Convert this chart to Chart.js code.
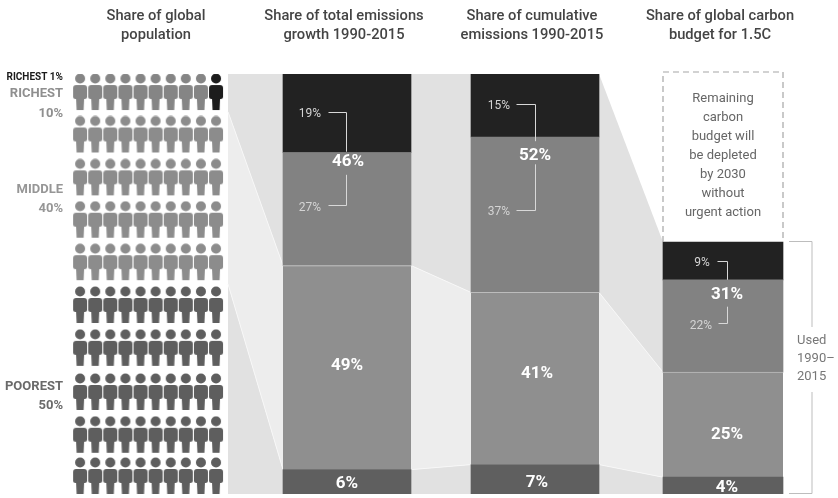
<!DOCTYPE html>
<html><head><meta charset="utf-8">
<style>html,body{margin:0;padding:0;background:#fff}canvas{display:block;filter:blur(0.45px)}</style>
<script src="https://cdn.jsdelivr.net/npm/chart.js@4"></script>
</head><body><canvas id="c" width="838" height="498"></canvas>
<script>
// ---- data (bar heights as drawn; printed labels are rounded)
const categories = [["Share of global","population"],["Share of total emissions","growth 1990-2015"],["Share of cumulative","emissions 1990-2015"],["Share of global carbon","budget for 1.5C"]];
const poorest   = [null, 5.8, 7, 4];
const middle    = [null, 48.6, 41, 25];
const richestNext = [null, 26.9, 37, 22];
const richest1  = [null, 18.7, 15, 9];
const remaining = [null, null, null, 40];
const populationEdges = [0, 50, 91, 100];   // left edge of the connecting bands
const peopleCols = [0,1,2,3,4,5,6,7,8,9];
const peopleRows = [95.7,85.6,75.4,65.3,55.2,45,34.8,24.3,14.1,4.3];
const FONT = 'Roboto, sans-serif';

const colors = {poorest:'#5f5f5f', middle:'#8f8f8f', next:'#828282', top:'#222222', bandDark:'#e1e1e1', bandLight:'#ededed', line:'#f7f7f7', seam:'#bcbcbc'};

function person(color){
  const c=document.createElement('canvas'); c.width=16; c.height=38;
  const g=c.getContext('2d'); g.fillStyle=color;
  g.beginPath(); g.arc(8,5.5,5,0,Math.PI*2); g.fill();
  g.beginPath();
  g.moveTo(4,12); g.lineTo(12,12); g.quadraticCurveTo(15,12,15,15); g.lineTo(15,24);
  g.quadraticCurveTo(15,26,12.6,26); g.lineTo(12,26); g.lineTo(11.5,37); g.lineTo(4.5,37); g.lineTo(4,26);
  g.lineTo(3.4,26); g.quadraticCurveTo(1,26,1,24); g.lineTo(1,15); g.quadraticCurveTo(1,12,4,12);
  g.closePath(); g.fill();
  return c;
}
function peopleData(fromRow,toRow,cols){
  const out=[];
  for(let r=fromRow;r<=toRow;r++) for(const col of (cols||peopleCols)) out.push({x:col,y:peopleRows[r]});
  return out;
}
const peopleSets=[
  {d:peopleData(0,0,peopleCols.slice(0,9)),c:'#858585'},
  {d:peopleData(0,0,peopleCols.slice(9)),c:'#1c1c1c'},
  {d:peopleData(1,4),c:'#8c8c8c'},
  {d:peopleData(5,9),c:'#5e5e5e'}
].map(s=>({type:'scatter',xAxisID:'xP',yAxisID:'yP',data:s.d,pointStyle:person(s.c),pointRadius:8,showLine:false}));

const wide=a=>a.map((v,i)=>i<3?v:null), narrow=a=>a.map((v,i)=>i===3?v:null);
const segs=[[poorest,colors.poorest,0],[middle,colors.middle,1],[richestNext,colors.next,0],[richest1,colors.top,0]];
const barSets=[];
for(const [arr,col,seam] of segs){
  for(const [fn,th] of [[wide,128],[narrow,120]]){
    barSets.push({type:'bar',grouped:false,stack:'s',data:fn(arr),backgroundColor:col,barThickness:th,
      borderSkipped:false,borderWidth:seam?{top:1}:0,borderColor:colors.seam,xAxisID:'x',yAxisID:'y'});
  }
}
const remainingSet={type:'bar',grouped:false,stack:'s',data:remaining,backgroundColor:'rgba(0,0,0,0)',barThickness:120,xAxisID:'x',yAxisID:'y',id:'rem'};

const cum=i=>{let s=0;const r=[s];for(const a of [poorest,middle,richestNext,richest1]){s+=a[i];r.push(s);}return r;};
const bandsPlugin={id:'bands',beforeDatasetsDraw(ch){
  const {ctx,scales:{x,y}}=ch;
  const half=[69,64,64,60];
  const edgesOf=[populationEdges,
    [0,cum(1)[1],cum(1)[2],cum(1)[4]],
    [0,cum(2)[1],cum(2)[2],cum(2)[4]],
    [0,cum(3)[1],cum(3)[2],cum(3)[4]]];
  const fills=[colors.bandDark,colors.bandLight,colors.bandDark];
  ctx.save();
  for(let g=0;g<3;g++){
    const x0=x.getPixelForValue(g)+half[g], x1=x.getPixelForValue(g+1)-half[g+1];
    const a=edgesOf[g], b=edgesOf[g+1];
    for(let k=0;k<3;k++){
      ctx.fillStyle=fills[k]; ctx.beginPath();
      ctx.moveTo(x0,y.getPixelForValue(a[k])); ctx.lineTo(x1,y.getPixelForValue(b[k]));
      ctx.lineTo(x1,y.getPixelForValue(b[k+1])); ctx.lineTo(x0,y.getPixelForValue(a[k+1]));
      ctx.closePath(); ctx.fill();
    }
    ctx.strokeStyle=colors.line; ctx.lineWidth=1;
    for(const k of [1,2]){
      ctx.beginPath(); ctx.moveTo(x0,y.getPixelForValue(a[k])); ctx.lineTo(x1,y.getPixelForValue(b[k])); ctx.stroke();
    }
  }
  ctx.restore();
}};

// labels: text, category, value on the y scale, sideways nudge in px
const bigLabels=[["46%",1,79.1,1],["49%",1,30.6,0],["6%",1,2.4,0],["52%",2,80.6,0],["41%",2,28.6,2],["7%",2,2.6,2],["31%",3,47.4,4],["25%",3,14.1,4],["4%",3,1.4,4]];
const smallLabels=[["19%",1,90.5,-37],["27%",1,68.1,-37],["15%",2,92.4,-36],["37%",2,67.1,-36],["9%",3,55.1,-21],["22%",3,39.9,-22]];
// connector: category, start value, corner nudge, arm length, end value
const connectors=[[1,90.9,-1,-18,81.5],[1,68.8,-1,-18,76],[2,92.8,0,-19,84],[2,67.5,0,-19,78.5],[3,55.5,4,-10,51],[3,40.7,4,-9,44.6]];
const sideTexts=[
 ["RICHEST 1%",77,'700 10px',"#1a1a1a"],["RICHEST",94,'700 13px',"#8f8f8f"],["10%",114,'700 13px',"#8f8f8f"],
 ["MIDDLE",190,'700 13px',"#969696"],["40%",209,'700 13px',"#969696"],
 ["POOREST",387,'700 13px',"#6a6a6a"],["50%",406,'700 13px',"#6a6a6a"]];
const remainingNote=["Remaining","carbon","budget will","be depleted","by 2030","without","urgent action"];
const usedNote=["Used","1990\u2013","2015"];

const overlay={id:'overlay',afterDatasetsDraw(ch){
  const {ctx,scales:{x,y}}=ch;
  ctx.save();
  ctx.textBaseline='middle'; ctx.textAlign='center';
  // connectors
  ctx.strokeStyle='#d8d8d8'; ctx.lineWidth=1;
  for(const [c,v,dx,len,end] of connectors){
    const px=Math.round(x.getPixelForValue(c)+dx)+.5, py=Math.round(y.getPixelForValue(v))+.5;
    ctx.beginPath(); ctx.moveTo(px+len,py); ctx.lineTo(px,py); ctx.lineTo(px,y.getPixelForValue(end)); ctx.stroke();
  }
  ctx.fillStyle='#fff'; ctx.font='700 17px '+FONT;
  for(const [t,c,v,dx] of bigLabels) ctx.fillText(t,x.getPixelForValue(c)+dx,y.getPixelForValue(v));
  ctx.fillStyle='#d4d4d4'; ctx.font='400 12px '+FONT;
  for(const [t,c,v,dx] of smallLabels) ctx.fillText(t,x.getPixelForValue(c)+dx,y.getPixelForValue(v));
  // left labels
  ctx.textAlign='right';
  for(const [t,py,f,col] of sideTexts){ ctx.font=f+' '+FONT; ctx.fillStyle=col; ctx.fillText(t,63,py); }
  // remaining box
  const rem=ch.getDatasetMeta(ch.data.datasets.findIndex(d=>d.id==='rem')).data[3];
  const l=rem.x-rem.width/2,r=rem.x+rem.width/2,t=rem.y-2,b=rem.base;
  ctx.strokeStyle='#a6a6a6'; ctx.lineWidth=1.2; ctx.setLineDash([6,4]);
  ctx.beginPath(); ctx.moveTo(l,b); ctx.lineTo(l,t); ctx.lineTo(r,t); ctx.lineTo(r,b); ctx.stroke();
  ctx.setLineDash([]);
  ctx.textAlign='center'; ctx.fillStyle='#666'; ctx.font='400 13px '+FONT;
  remainingNote.forEach((s,i)=>ctx.fillText(s,x.getPixelForValue(3),99+i*19));
  // used bracket
  const bt=y.getPixelForValue(60)-.5, bb=y.getPixelForValue(0)-.5, tx=r+29;
  ctx.strokeStyle='#bdbdbd'; ctx.lineWidth=1;
  ctx.beginPath(); ctx.moveTo(r+6,bt); ctx.lineTo(tx,bt); ctx.lineTo(tx,327); ctx.moveTo(tx,392); ctx.lineTo(tx,bb); ctx.lineTo(r+6,bb); ctx.stroke();
  ctx.textAlign='left'; ctx.fillStyle='#777'; ctx.font='400 13px '+FONT;
  usedNote.forEach((s,i)=>ctx.fillText(s,r+14,341+i*18));
  ctx.restore();
}};

new Chart(document.getElementById('c'),{
  data:{labels:categories,datasets:[...barSets,remainingSet,...peopleSets]},
  plugins:[bandsPlugin,overlay],
  options:{
    responsive:false,animation:false,devicePixelRatio:1,
    layout:{autoPadding:false,padding:{left:65,right:21,top:0,bottom:4}},
    plugins:{legend:{display:false},tooltip:{enabled:false}},
    scales:{
      x:{type:'category',position:'top',offset:true,grid:{display:false},border:{display:false},
        afterFit(s){s.height=74;},
        ticks:{color:'#444',font:{family:FONT,size:14.7,weight:'500',lineHeight:1.24},padding:22,labelOffset:-3,maxRotation:0,autoSkip:false}},
      y:{type:'linear',min:0,max:100,display:false},
      xP:{type:'linear',min:-1,max:48.8,display:false},
      yP:{type:'linear',min:0,max:100,display:false}
    }
  }
});
</script></body></html>
